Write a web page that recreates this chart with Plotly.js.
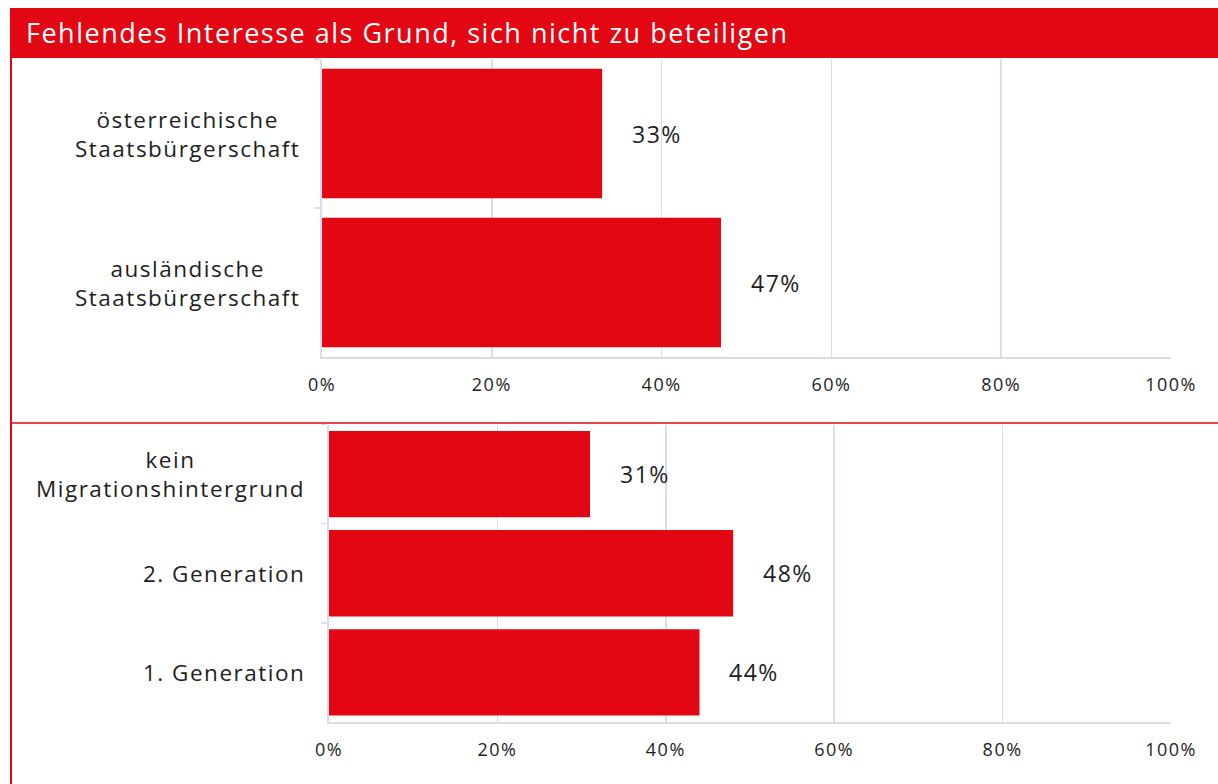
<!DOCTYPE html>
<html><head><meta charset="utf-8">
<script src="https://cdn.plot.ly/plotly-3.0.1.min.js"></script>
<style>html,body{margin:0;padding:0;background:#fff;}#chart{width:1218px;height:784px;}
svg text{letter-spacing:1.5px;}
</style>
</head><body><div id="chart"></div>
<script>
const chartTitle = 'Fehlendes Interesse als Grund, sich nicht zu beteiligen';
const topCategories = ['österreichische<br>Staatsbürgerschaft', 'ausländische<br>Staatsbürgerschaft'];
const topValues = [33, 47];
const bottomCategories = ['kein<br>Migrationshintergrund', '2. Generation', '1. Generation'];
const bottomValues = [31, 48, 44];
const xTickValues = [0, 20, 40, 60, 80, 100];
const xTickLabels = ['0%', '20%', '40%', '60%', '80%', '100%'];

const W = 1218, H = 784;
const RED = '#e30613';
const GRID = '#d9ddf0';
const TXT = '#1e1e1e';
const FONT = 'Open Sans, sans-serif';
const px = v => v / W;
const py = v => 1 - v / H;

const traces = [
  {type: 'bar', orientation: 'h', y: topCategories, x: topValues, xaxis: 'x', yaxis: 'y',
   marker: {color: RED}, hoverinfo: 'skip'},
  {type: 'bar', orientation: 'h', y: bottomCategories, x: bottomValues, xaxis: 'x2', yaxis: 'y2',
   marker: {color: RED}, hoverinfo: 'skip'}
];

const xCommon = {
  range: [0, 100], tickvals: xTickValues, ticktext: xTickLabels,
  showgrid: true, gridcolor: GRID, gridwidth: 1.5, zeroline: false,
  showline: true, linecolor: '#d9dae2', linewidth: 2,
  ticks: '', ticklabelstandoff: 10,
  tickfont: {family: FONT, size: 18, color: TXT}, fixedrange: true
};
const yCommon = {
  type: 'category', autorange: 'reversed', showticklabels: false,
  showline: true, linecolor: GRID, linewidth: 2, showgrid: false, zeroline: false,
  ticks: 'outside', tickson: 'boundaries', ticklen: 6, tickcolor: GRID, tickwidth: 1.5,
  fixedrange: true
};

const annotations = [];
topCategories.forEach((c, i) => {
  annotations.push({xref: 'paper', yref: 'y', x: px(302), y: c, text: c, showarrow: false,
    xanchor: 'right', align: 'center', font: {family: FONT, size: 22.5, color: TXT}});
  annotations.push({xref: 'x', yref: 'y', x: topValues[i], y: c, text: topValues[i] + '%', showarrow: false,
    xanchor: 'left', xshift: 28, font: {family: FONT, size: 23, color: TXT}});
});
bottomCategories.forEach((c, i) => {
  annotations.push({xref: 'paper', yref: 'y2', x: px(307), y: c, text: c, showarrow: false,
    xanchor: 'right', align: 'center', font: {family: FONT, size: 22.5, color: TXT}});
  annotations.push({xref: 'x2', yref: 'y2', x: bottomValues[i], y: c, text: bottomValues[i] + '%', showarrow: false,
    xanchor: 'left', xshift: 28, font: {family: FONT, size: 23, color: TXT}});
});

const layout = {
  width: W, height: H,
  margin: {l: 0, r: 0, t: 0, b: 0},
  paper_bgcolor: '#fff', plot_bgcolor: '#fff',
  showlegend: false, bargap: 0.13,
  title: {text: chartTitle, x: px(26), xanchor: 'left', xref: 'paper', y: py(34), yanchor: 'middle', yref: 'paper',
    font: {family: FONT, size: 27, color: '#ffffff'}},
  xaxis: Object.assign({}, xCommon, {domain: [px(322), px(1171)], anchor: 'y'}),
  yaxis: Object.assign({}, yCommon, {domain: [py(357), py(59)], anchor: 'x'}),
  xaxis2: Object.assign({}, xCommon, {domain: [px(329), px(1171)], anchor: 'y2'}),
  yaxis2: Object.assign({}, yCommon, {domain: [py(722), py(424.5)], anchor: 'x2'}),
  annotations: annotations,
  shapes: [
    {type: 'rect', xref: 'paper', yref: 'paper', x0: px(10), x1: 1, y0: py(58), y1: py(8),
     fillcolor: RED, line: {width: 0}, layer: 'below'},
    {type: 'line', xref: 'paper', yref: 'paper', x0: px(11), x1: px(11), y0: 0, y1: py(58),
     line: {color: RED, width: 2}},
    {type: 'line', xref: 'paper', yref: 'paper', x0: px(11), x1: 1, y0: py(423), y1: py(423),
     line: {color: RED, width: 1.5}}
  ]
};

Plotly.newPlot('chart', traces, layout, {displayModeBar: false, staticPlot: true});
</script></body></html>
